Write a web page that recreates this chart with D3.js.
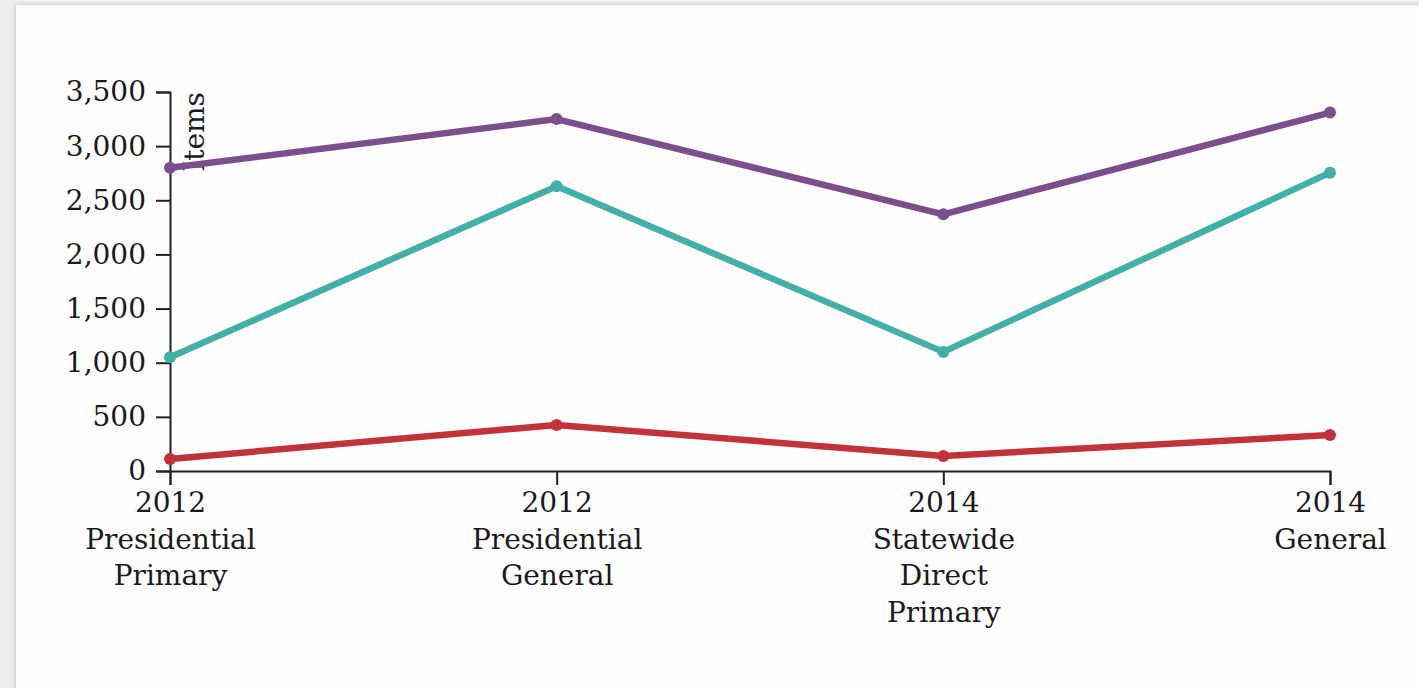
<!DOCTYPE html>
<html>
<head>
<meta charset="utf-8">
<script src="https://cdn.jsdelivr.net/npm/d3@7"></script>
<style>
  html, body { margin: 0; padding: 0; background: #efefef; }
  svg { display: block; }
  text { font-family: "DejaVu Serif", Georgia, serif; fill: #1a1a1a; }
</style>
</head>
<body>
<svg id="chart" width="1419" height="688"></svg>
<script>
// ---- data ----
const categories = [
  ["2012", "Presidential", "Primary"],
  ["2012", "Presidential", "General"],
  ["2014", "Statewide", "Direct", "Primary"],
  ["2014", "General"]
];
const seriesPurple = [2800, 3250, 2370, 3310];
const seriesTeal = [1050, 2630, 1100, 2755];
const seriesRed = [111, 425, 139, 332];
const yTicks = [0, 500, 1000, 1500, 2000, 2500, 3000, 3500];
const yLabel = "Items";

const series = [
  { name: "purple", values: seriesPurple, color: "#7b4f8c" },
  { name: "teal", values: seriesTeal, color: "#43b0a7" },
  { name: "red", values: seriesRed, color: "#c1323b" }
];

// ---- layout ----
const W = 1419, H = 688;
const margin = { top: 92, left: 170, right: 89, bottom: 217 };
const width = W - margin.left - margin.right;
const height = H - margin.top - margin.bottom;
const fontSize = "28px";

const svg = d3.select("#chart");

const defs = svg.append("defs");
const f = defs.append("filter").attr("id", "shadow").attr("x", "-5%").attr("y", "-5%").attr("width", "110%").attr("height", "110%");
f.append("feGaussianBlur").attr("in", "SourceAlpha").attr("stdDeviation", 2);
f.append("feComponentTransfer").append("feFuncA").attr("type", "linear").attr("slope", 0.25);
const fm = f.append("feMerge");
fm.append("feMergeNode");
fm.append("feMergeNode").attr("in", "SourceGraphic");

svg.append("rect")
  .attr("x", 16).attr("y", 5)
  .attr("width", W).attr("height", H)
  .attr("fill", "#fdfdfd")
  .attr("filter", "url(#shadow)");

const g = svg.append("g").attr("transform", `translate(${margin.left},${margin.top})`);

const x = d3.scalePoint()
  .domain(d3.range(categories.length))
  .range([0, width])
  .padding(0);

const y = d3.scaleLinear()
  .domain([0, 3500])
  .range([height, 0]);

// y axis
const yAxis = g.append("g")
  .call(d3.axisLeft(y).tickValues(yTicks).tickFormat(d3.format(",")).tickSize(14).tickPadding(10));
yAxis.selectAll("text").style("font-size", fontSize).attr("fill", "#1a1a1a");
yAxis.selectAll("path, line").attr("stroke", "#222").attr("stroke-width", 2);

yAxis.append("text")
  .attr("transform", "rotate(-90)")
  .attr("y", 14)
  .attr("dy", ".71em")
  .style("text-anchor", "end")
  .style("font-size", fontSize)
  .attr("fill", "#1a1a1a")
  .text(yLabel);

// x axis
const xAxis = g.append("g")
  .attr("transform", `translate(0,${height})`)
  .call(d3.axisBottom(x).tickSize(14).tickFormat(""));
xAxis.selectAll("path, line").attr("stroke", "#222").attr("stroke-width", 2);

xAxis.selectAll(".tick").each(function(d) {
  const t = d3.select(this).append("text")
    .attr("text-anchor", "middle")
    .attr("y", 41)
    .style("font-size", fontSize)
    .attr("fill", "#1a1a1a");
  categories[d].forEach((s, i) => {
    t.append("tspan").attr("x", 0).attr("dy", i === 0 ? 0 : 36.7).text(s);
  });
});

// lines
const line = d3.line()
  .x((d, i) => x(i))
  .y(d => y(d));

series.forEach(s => {
  g.append("path")
    .datum(s.values)
    .attr("fill", "none")
    .attr("stroke", s.color)
    .attr("stroke-width", 6.5)
    .attr("stroke-linejoin", "round")
    .attr("d", line);
  g.selectAll(null)
    .data(s.values)
    .enter().append("circle")
    .attr("cx", (d, i) => x(i))
    .attr("cy", d => y(d))
    .attr("r", 6)
    .attr("fill", s.color);
});
</script>
</body>
</html>
